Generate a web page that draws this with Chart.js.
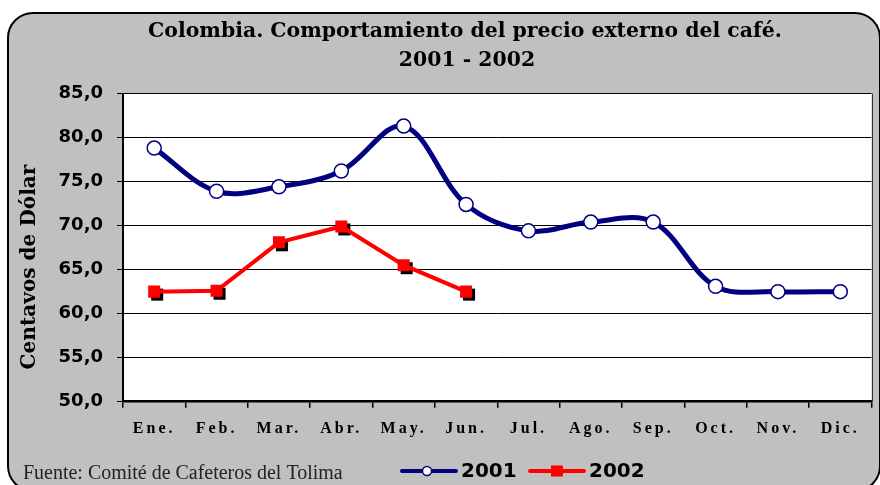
<!DOCTYPE html>
<html><head><meta charset="utf-8">
<script src="https://cdn.jsdelivr.net/npm/chart.js@4/dist/chart.umd.min.js"></script>
<style>
html,body{margin:0;padding:0;background:#fff;}
#wrap{position:relative;width:880px;height:485px;overflow:hidden;}
#frame{position:absolute;left:7px;top:12px;width:874px;height:480px;border:2px solid #000;border-radius:26px;background:#c0c0c0;box-sizing:border-box;}
#c{position:absolute;left:0;top:0;}
</style></head>
<body><div id="wrap"><div id="frame"></div><canvas id="c" width="880" height="485"></canvas></div>
<script>
const months = ['Ene.','Feb.','Mar.','Abr.','May.','Jun.','Jul.','Ago.','Sep.','Oct.','Nov.','Dic.'];
const precio2001 = [78.8,73.9,74.4,76.2,81.3,72.4,69.4,70.4,70.4,63.1,62.5,62.5];
const precio2002 = [62.5,62.6,68.1,69.9,65.5,62.5,null,null,null,null,null,null];
const seriesNames = ['2001','2002'];
const titleLines = ['Colombia. Comportamiento del precio externo del café.','2001 - 2002'];
const yAxisTitle = 'Centavos de Dólar';
const sourceNote = 'Fuente: Comité de Cafeteros del Tolima';
const yMin = 50, yMax = 85, yStep = 5;

const NAVY = '#000080', RED = '#ff0000';

function fitSize(ctx, text, family, weight, target){
  ctx.save(); ctx.font = weight + ' 100px ' + family;
  const w = ctx.measureText(text).width; ctx.restore();
  return 100 * target / w;
}

const decor = {
  id: 'decor',
  beforeDraw(chart){
    const {ctx, chartArea:a} = chart;
    ctx.save(); ctx.fillStyle = '#fff';
    ctx.fillRect(a.left, a.top, a.right - a.left, a.bottom - a.top);
    ctx.restore();
  },
  beforeDatasetsDraw(chart){
    const {ctx, chartArea:a} = chart;
    ctx.save(); ctx.strokeStyle = '#303030'; ctx.lineWidth = 1;
    ctx.beginPath(); ctx.moveTo(Math.round(a.right)+0.5, a.top); ctx.lineTo(Math.round(a.right)+0.5, a.bottom); ctx.stroke();
    ctx.restore();
  },
  beforeDatasetDraw(chart, args){
    if (args.index !== 1) return;
    const ctx = chart.ctx;
    ctx.save(); ctx.fillStyle = '#000';
    args.meta.data.forEach(p => { if (!p.skip && isFinite(p.y)) ctx.fillRect(p.x - 6 + 3, p.y - 6 + 3, 12, 12); });
    ctx.restore();
  },
  afterDatasetsDraw(chart){ chart.ctx.letterSpacing = '3px'; },
  afterDraw(chart){
    const ctx = chart.ctx;
    ctx.letterSpacing = '0px';
    ctx.save();
    ctx.fillStyle = '#000';
    // titles
    const tf = 'DejaVu Serif';
    const ts = fitSize(ctx, titleLines[0], tf, 'bold', 634);
    ctx.font = 'bold ' + ts + 'px ' + tf;
    ctx.textAlign = 'center'; ctx.textBaseline = 'middle';
    ctx.fillText(titleLines[0], 465, 32);
    ctx.fillText(titleLines[1], 467, 61);
    // y title
    const ys = fitSize(ctx, yAxisTitle, tf, 'bold', 205);
    ctx.save();
    ctx.translate(30, 267); ctx.rotate(-Math.PI/2);
    ctx.font = 'bold ' + ys + 'px ' + tf;
    ctx.fillText(yAxisTitle, 0, 0);
    ctx.restore();
    // source
    ctx.textAlign = 'left';
    const fs = fitSize(ctx, sourceNote, 'Liberation Serif', 'normal', 320);
    ctx.font = fs + 'px "Liberation Serif"';
    ctx.fillStyle = '#222';
    ctx.fillText(sourceNote, 23, 474);
    // legend
    const ly = 471;
    ctx.lineCap = 'round';
    ctx.strokeStyle = NAVY; ctx.lineWidth = 4;
    ctx.beginPath(); ctx.moveTo(402, ly); ctx.lineTo(456, ly); ctx.stroke();
    ctx.fillStyle = '#fff'; ctx.lineWidth = 1.5;
    ctx.beginPath(); ctx.arc(427, ly, 4.5, 0, Math.PI*2); ctx.fill(); ctx.stroke();
    ctx.strokeStyle = RED; ctx.lineWidth = 4;
    ctx.beginPath(); ctx.moveTo(530, ly); ctx.lineTo(584, ly); ctx.stroke();
    ctx.fillStyle = RED; ctx.fillRect(551, ly - 5.5, 12, 11);
    ctx.fillStyle = '#000';
    ctx.font = 'bold 20px "DejaVu Sans"';
    ctx.textBaseline = 'middle';
    ctx.fillText(seriesNames[0], 461, ly + 1);
    ctx.fillText(seriesNames[1], 589, ly + 1);
    ctx.restore();
  }
};

new Chart(document.getElementById('c'), {
  type: 'line',
  data: {
    labels: months,
    datasets: [
      { label: seriesNames[0], data: precio2001, borderColor: NAVY, borderWidth: 5, tension: 0.35,
        pointStyle: 'circle', pointRadius: 7, pointBackgroundColor: '#fff', pointBorderColor: NAVY, pointBorderWidth: 1.5 },
      { label: seriesNames[1], data: precio2002, borderColor: RED, borderWidth: 4, tension: 0,
        pointStyle: 'rect', pointRadius: 8.5, pointBackgroundColor: RED, pointBorderColor: RED, pointBorderWidth: 0, spanGaps: false }
    ]
  },
  options: {
    responsive: false, animation: false, devicePixelRatio: 1,
    layout: { padding: { left: 0, right: 7, top: 93.5, bottom: 43.3 } },
    plugins: { legend: { display: false }, title: { display: false }, tooltip: { enabled: false } },
    scales: {
      x: {
        type: 'category', offset: true,
        afterFit(s){ s.height = 40; },
        grid: { offset: true, drawOnChartArea: false, drawTicks: true, tickLength: 6, color: '#000', lineWidth: 1.5 },
        border: { color: '#000', width: 2.5 },
        ticks: { z: 1, color: '#000', padding: 12, maxRotation: 0, autoSkip: false,
          font: { family: 'Liberation Serif', weight: 'bold', size: 16 } }
      },
      y: {
        min: yMin, max: yMax,
        afterFit(s){ s.width = 123; },
        grid: { color: '#000', lineWidth: 1, drawTicks: true, tickLength: 6, tickColor: '#000' },
        border: { color: '#000', width: 2 },
        ticks: { stepSize: yStep, color: '#000', padding: 14,
          font: { family: 'DejaVu Sans', weight: 'bold', size: 18 },
          callback: v => v.toFixed(1).replace('.', ',') }
      }
    }
  },
  plugins: [decor]
});
</script></body></html>
